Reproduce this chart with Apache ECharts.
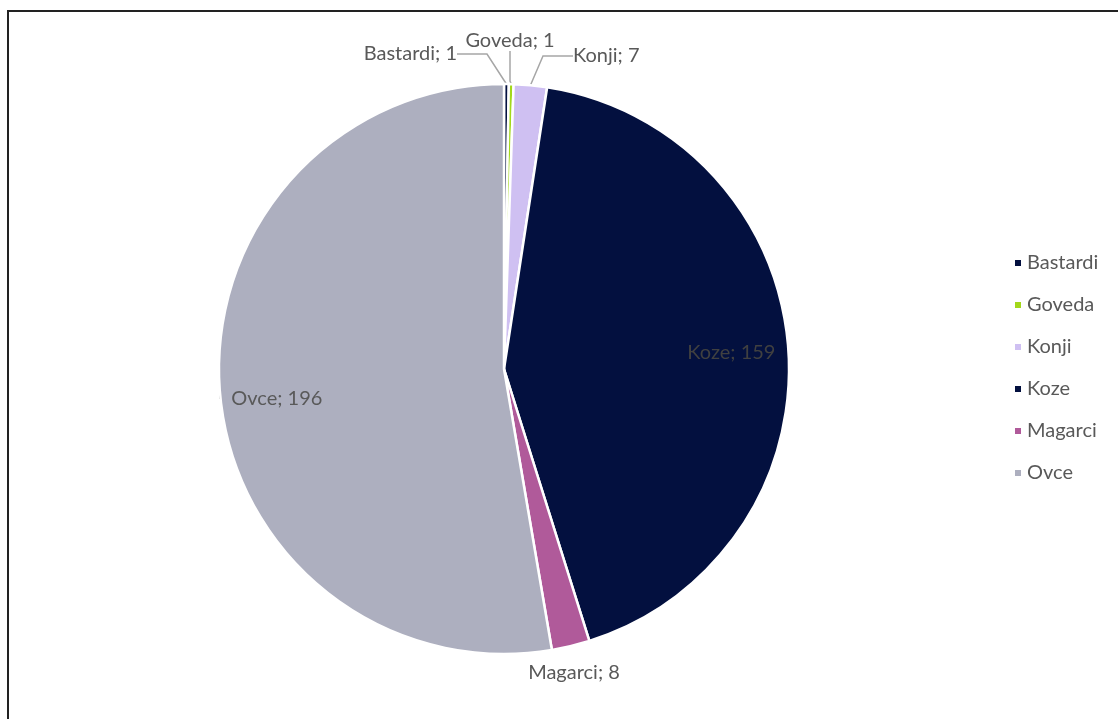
<!DOCTYPE html>
<html>
<head>
<meta charset="utf-8">
<script src="https://cdn.jsdelivr.net/npm/echarts@6/dist/echarts.min.js"></script>
<style>
    html, body { margin: 0; padding: 0; background: #fff; }
    #frame {
        position: absolute; left: 7px; top: 10px; width: 1200px; height: 800px;
        border-left: 2px solid #222; border-top: 2px solid #222;
    }
    #chart { position: absolute; left: 0; top: 0; width: 1118px; height: 719px; }
</style>
</head>
<body>
<div id="frame"></div>
<div id="chart"></div>
<script>
// data
var names = ['Bastardi', 'Goveda', 'Konji', 'Koze', 'Magarci', 'Ovce'];
var values = [1, 1, 7, 159, 8, 196];
var colors = ['#03103f', '#a3d81b', '#cfc0f2', '#03103f', '#b05a9a', '#adafbf'];

var CX = 504, CY = 369, R = 285;

// where Excel dropped the small outside labels
var outsideSpots = {
    'Bastardi': [457, 54, 'right'],
    'Goveda': [510, 41, 'center'],
    'Konji': [573, 56, 'left'],
    'Magarci': [574, 673, 'center']
};
// small nudge for the inside labels
var insideNudge = {'Koze': 1, 'Ovce': 10};

var total = 0;
for (var i = 0; i < values.length; i++) total += values[i];

function midAngle(idx) {
    var s = 0;
    for (var j = 0; j < idx; j++) s += values[j];
    return (s + values[idx] / 2) / total * 2 * Math.PI;
}

var pieData = [];
for (var i = 0; i < names.length; i++) {
    var item = {name: names[i], value: values[i], itemStyle: {color: colors[i]}};
    if (names[i] === 'Magarci') item.labelLine = {show: false};
    if (names[i] === 'Koze') item.label = {color: '#404040'};
    pieData.push(item);
}

var option = {
    animation: false,
    textStyle: {fontFamily: 'Lato'},
    legend: {
        orient: 'vertical',
        left: 1013,
        top: 253,
        padding: 0,
        icon: 'rect',
        itemWidth: 8,
        itemHeight: 8,
        itemGap: 22,
        data: names,
        textStyle: {fontSize: 20, color: '#595959', lineHeight: 20, fontFamily: 'Lato'}
    },
    series: [
        {
            type: 'pie',
            center: [CX, CY],
            radius: R,
            startAngle: 90,
            clockwise: true,
            data: pieData,
            itemStyle: {borderColor: '#fff', borderWidth: 2.5},
            label: {
                show: true,
                formatter: '{b}; {c}',
                fontSize: 20,
                color: '#595959',
                fontFamily: 'Lato'
            },
            labelLine: {show: true, lineStyle: {color: '#a6a6a6', width: 1.5}},
            labelLayout: function (p) {
                var nm = names[p.dataIndex];
                var spot = outsideSpots[nm];
                if (spot) {
                    return {x: spot[0], y: spot[1], align: spot[2], verticalAlign: 'middle'};
                }
                var a = midAngle(p.dataIndex);
                return {
                    x: CX + 0.8 * R * Math.sin(a),
                    y: CY - 0.8 * R * Math.cos(a) + (insideNudge[nm] || 0),
                    align: 'center',
                    verticalAlign: 'middle'
                };
            },
            emphasis: {disabled: true}
        }
    ]
};

var chart = echarts.init(document.getElementById('chart'));
chart.setOption(option);
</script>
</body>
</html>
